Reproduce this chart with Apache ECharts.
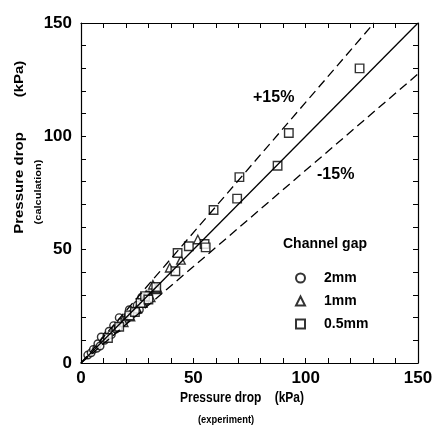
<!DOCTYPE html>
<html><head><meta charset="utf-8">
<script src="https://cdn.jsdelivr.net/npm/echarts@6/dist/echarts.min.js"></script>
<style>html,body{margin:0;padding:0;background:#fff}#c{width:441px;height:431px}</style>
</head><body><div id="c"></div>
<script>
// Data (kPa): [experiment, calculation]
const gap2mm = [[3,3.5],[4.5,4.5],[5.5,6],[7,6.5],[7.5,8.5],[8.5,7.5],[9,11.5],[10.5,10],[11.5,12],[12.5,14],[13.5,12.5],[14.5,16.5],[15.5,15],[16.5,15.5],[17,20],[18,18],[19.5,19],[21,21],[21.5,23.5],[23,22],[25,25.5],[26,23.5],[27,29],[28.5,27],[30,30]];
const gap1mm = [[19,18],[22,20.5],[25,24],[27.5,26.5],[29,30],[31,29],[32,34.5],[33.5,32.5],[34,33],[39.5,42],[44.5,45.5],[52,54.5]];
const gap05mm = [[12,11],[17,16],[21.5,21],[24,22.5],[26.5,26.5],[28.5,29.5],[30,28],[33.5,33.5],[42,40.5],[43,48.5],[48,51.5],[55,52.5],[55.5,51],[59,67.5],[69.5,72.5],[70.5,82],[87.5,87],[92.5,101.5],[124,130]];
const seriesNames = ['2mm','1mm','0.5mm'];
const perfectLine = [[0,0],[150,150]];
const plus15Line = [[0,0],[150/1.15,150]];
const minus15Line = [[0,0],[150,127.5]];
const tickLabels = [0,50,100,150];

const chart = echarts.init(document.getElementById('c'));
const tickFont = {fontFamily:'Liberation Sans', fontWeight:'bold', fontSize:17, color:'#000'};
function axisBase(pos, showLabel, margin){
  return {
    type:'value', min:0, max:150, interval:10, position:pos,
    axisLine:{show:true, onZero:false, lineStyle:{color:'#000', width:1.2}},
    axisTick:{show:true, inside:true, length:5, lineStyle:{color:'#000', width:1}},
    splitLine:{show:false},
    axisLabel:Object.assign({show:showLabel, margin:margin, formatter:v=>tickLabels.indexOf(v)>=0?String(v):''}, tickFont)
  };
}
const mk = {color:'#fff', borderColor:'#000', borderWidth:1.4};
const titleFont = 'bold 15px "Liberation Sans"';
const smallFont = 'bold 11px "Liberation Sans"';
chart.setOption({
  animation:false,
  backgroundColor:'#fff',
  grid:{left:81, right:23, top:23, bottom:68},
  xAxis:[axisBase('bottom', true, 7), axisBase('top', false, 0)],
  yAxis:[axisBase('left', true, 9), axisBase('right', false, 0)],
  legend:{
    orient:'vertical', left:290, top:266, itemGap:9, itemWidth:9, itemHeight:9,
    data:seriesNames,
    textStyle:{fontFamily:'Liberation Sans', fontWeight:'bold', fontSize:14, color:'#000', padding:[0,0,0,14]}
  },
  series:[
    {type:'line', data:perfectLine, symbol:'none', silent:true, lineStyle:{color:'#000', width:1.3}},
    {type:'line', data:plus15Line, symbol:'none', silent:true, lineStyle:{color:'#000', width:1.3, type:[9,5]}},
    {type:'line', data:minus15Line, symbol:'none', silent:true, lineStyle:{color:'#000', width:1.3, type:[9,5]}},
    {name:'2mm', type:'scatter', data:gap2mm, symbol:'circle', symbolSize:7.5, itemStyle:mk},
    {name:'1mm', type:'scatter', data:gap1mm, symbol:'triangle', symbolSize:8.5, itemStyle:mk},
    {name:'0.5mm', type:'scatter', data:gap05mm, symbol:'rect', symbolSize:8.5, itemStyle:mk}
  ],
  graphic:[
    {type:'text', x:180, y:390, scaleX:0.8, style:{text:'Pressure drop    (kPa)', font:titleFont, fill:'#000'}},
    {type:'text', x:198, y:414, scaleX:0.85, style:{text:'(experiment)', font:smallFont, fill:'#000'}},
    {type:'text', x:20, y:183, rotation:Math.PI/2, scaleY:0.8, style:{text:'Pressure drop', font:titleFont, fill:'#000', align:'center', verticalAlign:'middle'}},
    {type:'text', x:20, y:79, rotation:Math.PI/2, scaleY:0.8, style:{text:'(kPa)', font:titleFont, fill:'#000', align:'center', verticalAlign:'middle'}},
    {type:'text', x:38, y:192, rotation:Math.PI/2, scaleY:0.85, style:{text:'(calculation)', font:smallFont, fill:'#000', align:'center', verticalAlign:'middle'}},
    {type:'text', left:253, top:90, style:{text:'+15%', font:'bold 16px "Liberation Sans"', fill:'#000'}},
    {type:'text', left:317, top:167, style:{text:'-15%', font:'bold 16px "Liberation Sans"', fill:'#000'}},
    {type:'text', left:283, top:237, style:{text:'Channel gap', font:'bold 14px "Liberation Sans"', fill:'#000'}}
  ]
});
</script></body></html>
